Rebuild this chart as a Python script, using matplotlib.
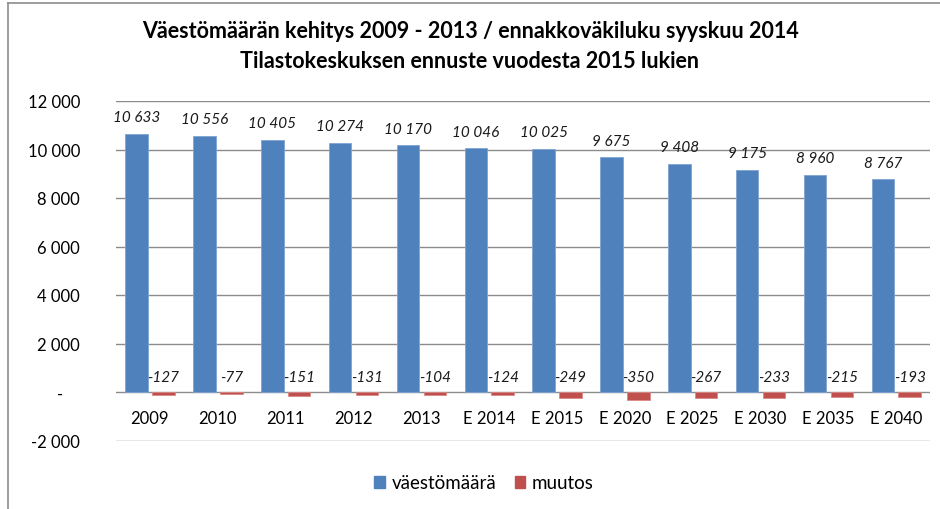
#!/usr/bin/env python3
"""Väestömäärän kehitys 2009-2040 -> out.png"""

import matplotlib

matplotlib.use("Agg")
import matplotlib.pyplot as plt  # noqa: E402
import numpy as np  # noqa: E402
from matplotlib.lines import Line2D  # noqa: E402
from matplotlib.patches import Patch  # noqa: E402

plt.rcParams["font.family"] = ["Lato", "DejaVu Sans"]

CATEGORIES = ["2009", "2010", "2011", "2012", "2013", "E 2014", "E 2015",
              "E 2020", "E 2025", "E 2030", "E 2035", "E 2040"]
POPULATION = [10633, 10556, 10405, 10274, 10170, 10046, 10025,
              9675, 9408, 9175, 8960, 8767]
CHANGE = [-127, -77, -151, -131, -104, -124, -249,
          -350, -267, -233, -215, -193]
YTICKS = [-2000, 0, 2000, 4000, 6000, 8000, 10000, 12000]

BLUE = "#4f81bd"
RED = "#c0504d"
GRID = "#8c8c8c"


def fmt(v):
    if v == 0:
        return "-    "
    s = f"{abs(v):,}".replace(",", " ")
    return ("-" if v < 0 else "") + s


def main():
    fig = plt.figure(figsize=(9.4, 5.1), dpi=100)
    ax = fig.add_axes([116 / 940, 1 - 441.5 / 510, 814 / 940, 339.5 / 510])

    x = np.arange(len(CATEGORIES))
    w = 0.33
    ax.bar(x - 0.195, POPULATION, w, color=BLUE, edgecolor="#7fa3d3", lw=0.6, zorder=3)
    ax.bar(x + 0.2, CHANGE, w, color=RED, edgecolor="#d98a88", lw=0.6, zorder=3)

    for xi, v in zip(x, POPULATION):
        ax.annotate(fmt(v), (xi - 0.195, v), xytext=(0, 12), textcoords="offset points",
                    ha="center", va="center", style="italic", fontsize=11, color="#1a1a1a")
    for xi, v in zip(x, CHANGE):
        ax.annotate(fmt(v), (xi + 0.2, 0), xytext=(0, 11), textcoords="offset points",
                    ha="center", va="center", style="italic", fontsize=11, color="#1a1a1a")

    ax.set_xlim(-0.5, len(CATEGORIES) - 0.5)
    ax.set_ylim(-2000, 12000)
    ax.set_yticks(YTICKS)
    ax.set_yticklabels([fmt(v) for v in YTICKS], fontsize=12)
    ax.tick_params(axis="y", length=0, pad=26)
    ax.set_xticks([])
    for xi, c in zip(x, CATEGORIES):
        ax.annotate(c, (xi, 0), xytext=(0, -19), textcoords="offset points",
                    ha="center", va="center", fontsize=12)
    for v in YTICKS:
        ax.axhline(v, color=GRID, lw=1, zorder=1)
    for s in ax.spines.values():
        s.set_visible(False)

    fig.text(0.5, 1 - 31 / 510, "Väestömäärän kehitys 2009 - 2013 / ennakkoväkiluku syyskuu 2014",
             ha="center", va="center", fontsize=15.5, fontweight="bold")
    fig.text(0.5, 1 - 61 / 510, "Tilastokeskuksen ennuste vuodesta 2015 lukien",
             ha="center", va="center", fontsize=15.5, fontweight="bold")

    handles = [Patch(color=BLUE), Patch(color=RED)]
    fig.legend(handles, ["väestömäärä", "muutos"], loc="center",
               bbox_to_anchor=(484 / 940, 1 - 484 / 510), ncol=2, frameon=False,
               fontsize=13.5, handlelength=0.55, handleheight=0.55,
               handletextpad=0.35, columnspacing=1.0)

    # outer chart frame (left and top edges visible)
    fig.add_artist(Line2D([8 / 940, 8 / 940], [0, 1 - 4 / 510], color="#8c8c8c", lw=1.2,
                          transform=fig.transFigure))
    fig.add_artist(Line2D([8 / 940, 1], [1 - 4 / 510, 1 - 4 / 510], color="#8c8c8c", lw=1.2,
                          transform=fig.transFigure))

    fig.savefig("out.png", dpi=100)
    plt.close(fig)


if __name__ == "__main__":
    main()
